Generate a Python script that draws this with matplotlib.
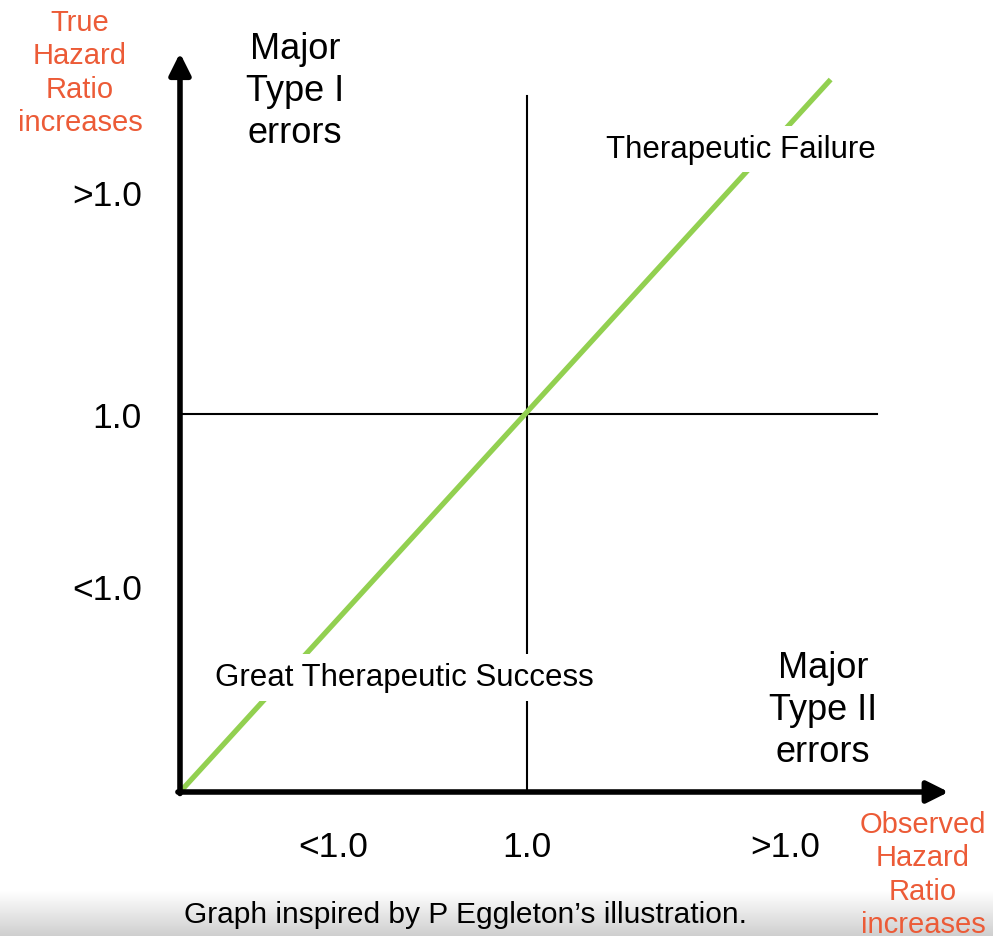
import numpy as np
import matplotlib
matplotlib.use('Agg')
import matplotlib.pyplot as plt

plt.rcParams['font.family'] = ['Liberation Sans', 'DejaVu Sans']

# values (data units: 1.0 = the reference hazard ratio)
x_ticks = [0.441, 1.0, 1.744]
x_tick_labels = ['<1.0', '1.0', '>1.0']
y_ticks = [0.537, 0.992, 1.577]
y_tick_labels = ['<1.0', '1.0', '>1.0']
diag_x = [0.0, 1.875]
diag_y = [0.0, 1.885]
ref_value = 1.0

orange = '#ec5b37'
green = '#92d050'

fig = plt.figure(figsize=(9.93, 9.37), dpi=100)
ax = fig.add_axes([0, 0, 1, 1])
ax.set_xlim(-0.5187, 2.3429)
ax.set_ylim(-0.381, 2.098)
ax.axis('off')

# grey band at the bottom
grad = np.linspace(0, 1, 100).reshape(-1, 1)
ax.imshow(grad, extent=(-0.5187, 2.3429, -0.381, -0.262), aspect='auto',
          cmap=plt.cm.colors.LinearSegmentedColormap.from_list('g', ['#ffffff', '#cfcfcf']),
          origin='upper', zorder=0)

# reference lines
ax.plot([ref_value, ref_value], [0, 1.841], color='black', lw=1.5, zorder=1)
ax.plot([0, 2.009], [ref_value, ref_value], color='black', lw=1.5, zorder=1)

# diagonal
ax.plot(diag_x, diag_y, color=green, lw=3.8, solid_capstyle='butt', zorder=2)

# axes with arrows
arrow = dict(arrowstyle='-|>,head_length=0.5,head_width=0.25', color='black', lw=4,
             shrinkA=0, shrinkB=0, mutation_scale=26)
ax.annotate('', xy=(0, 1.955), xytext=(0, -0.004), arrowprops=arrow, zorder=4)
ax.annotate('', xy=(2.215, 0), xytext=(-0.006, 0), arrowprops=arrow, zorder=4)

# tick labels
for x, lab in zip(x_ticks, x_tick_labels):
    ax.text(x, -0.1455, lab, ha='center', va='center', fontsize=25.5)
for y, lab in zip(y_ticks, y_tick_labels):
    ax.text(-0.1095, y, lab, ha='right', va='center', fontsize=25.5)

# axis titles
ax.text(-0.288, 1.905, 'True\nHazard\nRatio\nincreases', ha='center', va='center',
        fontsize=21, color=orange, linespacing=1.25)
ax.text(2.141, -0.217, 'Observed\nHazard\nRatio\nincreases', ha='center', va='center',
        fontsize=21, color=orange, linespacing=1.25)

# region labels
ax.text(0.331, 1.855, 'Major\nType I\nerrors', ha='center', va='center',
        fontsize=26, linespacing=1.26)
ax.text(1.853, 0.217, 'Major\nType II\nerrors', ha='center', va='center',
        fontsize=26, linespacing=1.26)
box = dict(facecolor='white', edgecolor='none', pad=6)
ax.text(1.617, 1.701, 'Therapeutic Failure', ha='center', va='center',
        fontsize=22.5, bbox=box, zorder=3)
ax.text(0.6455, 0.304, 'Great Therapeutic Success', ha='center', va='center',
        fontsize=22.5, bbox=box, zorder=3)

ax.text(0.824, -0.323, 'Graph inspired by P Eggleton\u2019s illustration.', ha='center',
        va='center', fontsize=21.5, zorder=3)

fig.savefig('out.png', dpi=100)
